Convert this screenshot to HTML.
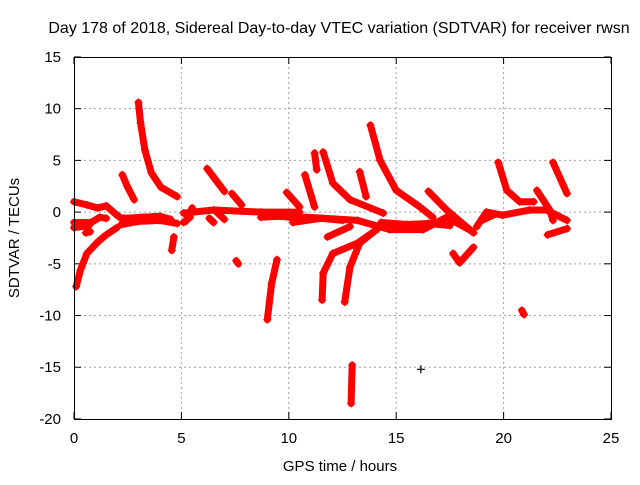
<!DOCTYPE html>
<html><head><meta charset="utf-8"><style>
body{margin:0;background:#fff}
svg text{font-family:"Liberation Sans",sans-serif;font-size:15px;fill:#000}
</style></head><body>
<svg id="c" width="640" height="480">
<text x="339" y="33" text-anchor="middle" style="font-size:16px">Day 178 of 2018, Sidereal Day-to-day VTEC variation (SDTVAR) for receiver rwsn</text>
<text x="340" y="471" text-anchor="middle">GPS time / hours</text>
<text transform="translate(19,238) rotate(-90)" text-anchor="middle">SDTVAR / TECUs</text>
<g id="grid"></g><g id="ticks"></g><g id="marks"></g>
<rect x="74.5" y="57.5" width="537" height="362" fill="none" stroke="#000"/>
</svg>
<script>
const xTicks=[0,5,10,15,20,25];
const yTicks=[15,10,5,0,-5,-10,-15,-20];
const tracks=[
[[0,1],[0.6,0.7],[1.1,0.4],[1.5,0.6],[2.0,-0.3],[2.2,-0.6]],
[[0,-1.0],[0.8,-1.0],[1.2,-0.5],[1.5,-0.6]],
[[0,-1.5],[0.7,-1.3]],
[[2.2,-1.2],[3,-0.9],[4,-0.8],[4.8,-1.1]],
[[2.3,-0.6],[3.2,-0.5],[4,-0.4],[4.5,-0.7]],
[[0.1,-7.2],[0.3,-5.6],[0.6,-4],[1.1,-2.9],[1.5,-2.2],[2,-1.5]],
[[3.0,10.6],[3.1,8.6],[3.3,6],[3.6,3.8],[4.05,2.4],[4.8,1.5]],
[[2.25,3.6],[2.5,2.4],[2.8,1.2]],
[[0.55,-2],[0.75,-1.9]],
[[4.65,-2.4],[4.55,-3.7]],
[[6.2,4.2],[7,2]],
[[7.35,1.8],[7.8,0.7]],
[[7.55,-4.7],[7.65,-5]],
[[9.45,-4.6],[9.2,-6.9],[9.0,-10.4]],
[[5.1,-0.1],[6.5,0.2],[8.7,0],[10.5,0]],
[[5.1,-1],[5.4,-0.5]],
[[5.2,-0.9],[5.5,0.4]],
[[6.3,-0.6],[6.5,-1]],
[[6.6,0.1],[7.0,-0.7]],
[[8.7,-0.5],[9.6,-0.4],[10.5,-0.6]],
[[9.9,1.9],[10.5,0.5]],
[[13.8,8.4],[14.25,5],[15,2.1],[16.1,0.5],[16.7,-0.5]],
[[11.2,5.7],[11.3,4.1]],
[[11.6,5.8],[12.05,2.8],[12.85,1.2],[14.4,-0.1]],
[[10.75,3.6],[11.2,0.5]],
[[13.3,3.9],[13.6,1.5]],
[[16.5,2],[17.35,0.2],[18.6,-2]],
[[10.05,-0.5],[10.85,-0.5],[13.2,-0.8],[14.7,-1.7],[16.25,-1.7],[17.35,-0.5],[18.4,-1.7]],
[[10.2,-1],[11.5,-0.6],[12.5,-0.8]],
[[14.3,-1],[15.5,-1.2],[16.5,-1.1],[17.5,-1.3]],
[[11.55,-8.5],[11.6,-5.9],[12.05,-4],[13.2,-3],[14.1,-1.7]],
[[12.6,-8.7],[12.85,-5.3],[13.3,-3],[13.9,-2]],
[[12.95,-14.8],[12.9,-18.5]],
[[11.8,-2.4],[12.85,-1.4]],
[[17.65,-4],[17.95,-4.9],[18.6,-3.4]],
[[18.75,-1.4],[19.2,0],[19.95,-0.3],[21.2,0.2],[22,0.2],[22.95,-0.8]],
[[19.0,-0.8],[19.6,-0.2]],
[[19.75,4.8],[20.15,2.1],[20.75,1],[21.4,1]],
[[21.55,2.1],[22.15,0.2],[22.3,-0.8]],
[[22.3,4.8],[22.95,1.8]],
[[22.05,-2.2],[22.95,-1.6]],
[[20.85,-9.5],[20.95,-9.9]]
];
const blackPts=[[16.15,-15.2]];
const X=v=>74+v*(537/25), Y=v=>212.1-v*(362/35);
const NS='http://www.w3.org/2000/svg';
function mk(t,a,p){const e=document.createElementNS(NS,t);for(const k in a)e.setAttribute(k,a[k]);p.appendChild(e);return e;}
const grid=document.getElementById('grid'),ticks=document.getElementById('ticks'),marks=document.getElementById('marks');
xTicks.forEach(v=>{
 if(v>0&&v<25){const g=mk('line',{x1:X(v),x2:X(v),y1:57,y2:419,stroke:'#a0a0a0','stroke-dasharray':'2,3'},grid);
 }
 mk('line',{x1:X(v),x2:X(v),y1:419,y2:412,stroke:'#000'},ticks);mk('line',{x1:X(v),x2:X(v),y1:57,y2:64,stroke:'#000'},ticks);
 const t=mk('text',{x:X(v),y:443,'text-anchor':'middle'},ticks);t.textContent=v;
 
 
});
yTicks.forEach(v=>{
 if(v<15&&v>-20){const g=mk('line',{x1:74,x2:611,y1:Y(v),y2:Y(v),stroke:'#a0a0a0','stroke-dasharray':'2,3'},grid);
 }
 mk('line',{x1:74,x2:81,y1:Y(v),y2:Y(v),stroke:'#000'},ticks);mk('line',{x1:604,x2:611,y1:Y(v),y2:Y(v),stroke:'#000'},ticks);
 const t=mk('text',{x:61,y:Y(v)+5,'text-anchor':'end'},ticks);t.textContent=v;
 
 
});
function plus(x,y,c){const p=mk('path',{d:`M${x-4},${y}H${x+4}M${x},${y-4}V${y+4}`,stroke:c,'stroke-width':1.2,fill:'none'},marks);
 }
tracks.forEach(tr=>{
 const pl=mk('polyline',{points:tr.map(p=>X(p[0])+','+Y(p[1])).join(' '),fill:'none',stroke:'#f00','stroke-width':7,'stroke-linecap':'round','stroke-linejoin':'round'},marks);
 
 
 tr.forEach(p=>plus(X(p[0]),Y(p[1]),'#f00'));
});
blackPts.forEach(p=>plus(X(p[0]),Y(p[1]),'#000'));
</script>
</body></html>
